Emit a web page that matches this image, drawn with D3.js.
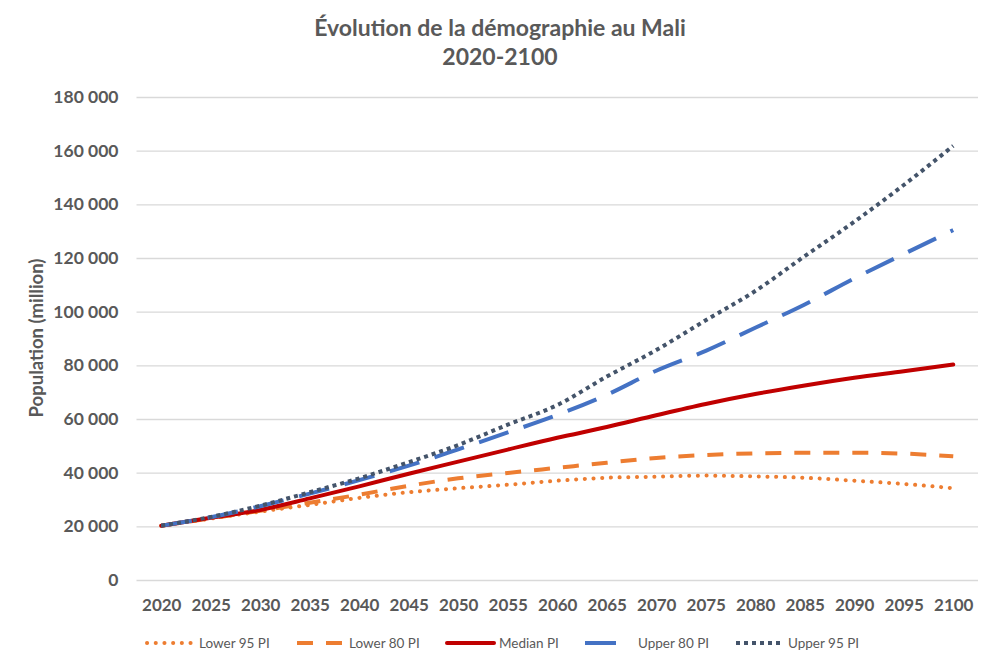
<!DOCTYPE html>
<html>
<head>
<meta charset="utf-8">
<script src="https://cdn.jsdelivr.net/npm/d3@7"></script>
<style>
  body { margin: 0; background: #fff; }
  svg { display: block; }
</style>
</head>
<body>
<svg id="chart" width="1000" height="670"></svg>
<script>
const years = ["2020","2025","2030","2035","2040","2045","2050","2055","2060","2065","2070","2075","2080","2085","2090","2095","2100"];
const lower95 = [20250, 22900, 25500, 28000, 30600, 32700, 34200, 35500, 37000, 38100, 38500, 38900, 38600, 38100, 37000, 35800, 34200];
const lower80 = [20250, 23000, 25800, 28800, 31800, 35100, 37900, 39900, 41800, 43700, 45500, 46600, 47200, 47400, 47400, 47100, 46100];
const median  = [20250, 23200, 26100, 30400, 34900, 39600, 44100, 48600, 53000, 57000, 61400, 65600, 69300, 72500, 75400, 77800, 80300];
const upper80 = [20250, 23400, 27500, 32200, 37200, 42600, 48700, 55000, 61500, 69000, 78000, 85400, 94000, 102700, 112400, 121500, 130400];
const upper95 = [20250, 23500, 27700, 32700, 37900, 43900, 50300, 57900, 65200, 75800, 85700, 96800, 107700, 120700, 133500, 147200, 161800];
const yTicks = [0, 20000, 40000, 60000, 80000, 100000, 120000, 140000, 160000, 180000];
const seriesNames = ["Lower 95 PI", "Lower 80 PI", "Median PI", "Upper 80 PI", "Upper 95 PI"];
const titleLines = ["Évolution de la démographie au Mali", "2020-2100"];
const yAxisTitle = "Population (million)";

const series = [
  {name: seriesNames[0], values: lower95, color: "#ED7D31", dash: "0.1 8.6", cap: "round"},
  {name: seriesNames[1], values: lower80, color: "#ED7D31", dash: "16 13", cap: "butt"},
  {name: seriesNames[2], values: median,  color: "#C00000", dash: null, cap: "round"},
  {name: seriesNames[3], values: upper80, color: "#4472C4", dash: "31 16", cap: "butt"},
  {name: seriesNames[4], values: upper95, color: "#44546A", dash: "4 4", cap: "butt"}
];

const svg = d3.select("#chart");
const grey = "#595959";
const plotLeft = 136.5, plotRight = 978, plotTop = 97, plotBottom = 580;

const x = d3.scalePoint().domain(years).range([plotLeft, plotRight]).padding(0.5);
const y = d3.scaleLinear().domain([0, 180000]).range([plotBottom, plotTop]);
const locale = d3.formatLocale({decimal: ",", thousands: " ", grouping: [3], currency: ["", " €"]});
const fmt = locale.format(",d");

// title
svg.append("g").selectAll("text").data(titleLines).join("text")
  .attr("x", 500).attr("y", (d, i) => 36 + i * 29)
  .attr("text-anchor", "middle")
  .attr("font-family", "Lato, 'Open Sans', sans-serif")
  .attr("font-weight", "bold").attr("font-size", 23)
  .attr("fill", grey).text(d => d);

// gridlines + y axis
const yAxis = d3.axisLeft(y).tickValues(yTicks).tickFormat(fmt).tickSize(-(plotRight - plotLeft)).tickPadding(18);
const gy = svg.append("g").attr("transform", `translate(${plotLeft},0)`).call(yAxis);
gy.select(".domain").remove();
gy.selectAll(".tick line").attr("stroke", "#D9D9D9").attr("stroke-width", 1.3);
gy.selectAll(".tick text").attr("font-family", "Lato, sans-serif").attr("font-weight", "bold")
  .attr("font-size", 17.5).attr("fill", grey);

// x axis
const xAxis = d3.axisBottom(x).tickSize(0).tickPadding(19);
const gx = svg.append("g").attr("transform", `translate(0,${plotBottom})`).call(xAxis);
gx.select(".domain").remove();
gx.selectAll(".tick text").attr("font-family", "Lato, sans-serif")
  .attr("font-weight", "bold").attr("font-size", 17).attr("fill", grey);

// y axis title
svg.append("text")
  .attr("transform", "translate(43,338) rotate(-90)")
  .attr("text-anchor", "middle")
  .attr("font-family", "Lato, sans-serif").attr("font-weight", "bold").attr("font-size", 18.5)
  .attr("fill", grey).text(yAxisTitle);

// lines
const line = d3.line().x((d, i) => x(years[i])).y(d => y(d)).curve(d3.curveMonotoneX);
svg.append("g").selectAll("path").data(series).join("path")
  .attr("d", d => line(d.values))
  .attr("fill", "none")
  .attr("stroke", d => d.color)
  .attr("stroke-width", 4)
  .attr("stroke-linecap", d => d.cap)
  .attr("stroke-linejoin", "round")
  .attr("stroke-dasharray", d => d.dash);

// legend
const legendX = [199, 349, 499, 638, 788];
const lg = svg.append("g").selectAll("g").data(series).join("g")
  .attr("transform", (d, i) => `translate(${legendX[i]},643)`);
lg.append("line")
  .attr("x1", (d, i) => i === 3 ? -53 : -52).attr("x2", (d, i) => i === 3 ? -19 : -5)
  .attr("y1", 0).attr("y2", 0)
  .attr("stroke", d => d.color).attr("stroke-width", 4)
  .attr("stroke-linecap", d => d.cap)
  .attr("stroke-dasharray", d => d.dash);
lg.append("text").attr("x", 0).attr("y", 0).attr("dy", "0.35em")
  .attr("font-family", "Lato, sans-serif").attr("font-size", 13.5)
  .attr("fill", grey).text(d => d.name);
</script>
</body>
</html>
